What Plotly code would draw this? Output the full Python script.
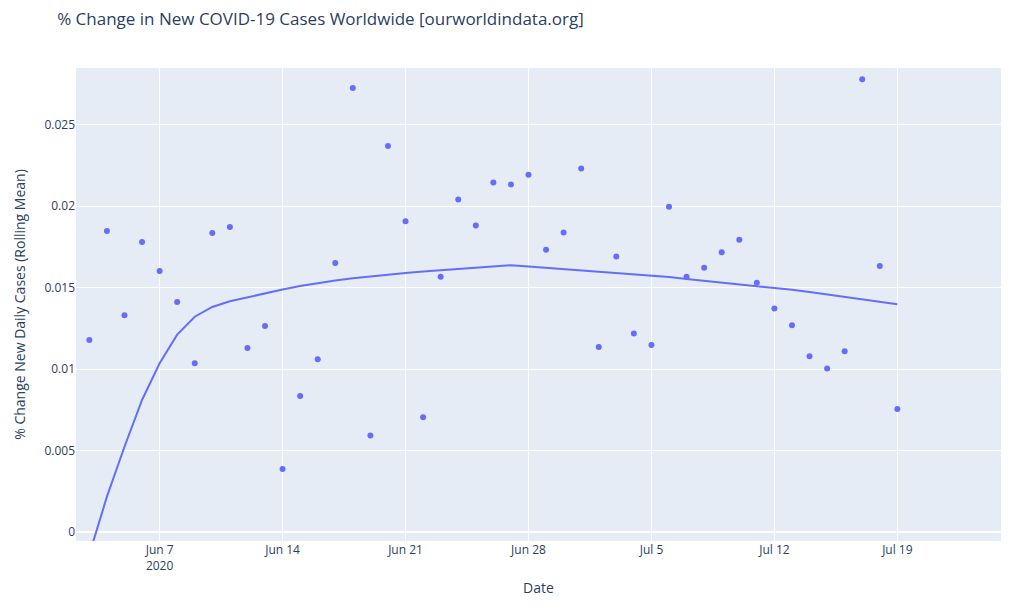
import pandas as pd
import plotly.graph_objects as go

dates = pd.date_range("2020-06-03", "2020-07-19", freq="D")

pct_change = [
    0.01178, 0.01847, 0.01330, 0.01779, 0.01601, 0.01411, 0.01035, 0.01834,
    0.01871, 0.01129, 0.01264, 0.00387, 0.00834, 0.01060, 0.01650, 0.02724,
    0.00592, 0.02368, 0.01906, 0.00705, 0.01566, 0.02040, 0.01881, 0.02145,
    0.02133, 0.02192, 0.01732, 0.01837, 0.02231, 0.01135, 0.01690, 0.01218,
    0.01147, 0.01996, 0.01566, 0.01622, 0.01716, 0.01794, 0.01530, 0.01372,
    0.01268, 0.01078, 0.01003, 0.01109, 0.02778, 0.01632, 0.00755,
]

trend = [
    -0.00136, 0.00217, 0.00523, 0.00810, 0.01035, 0.01211, 0.01321, 0.01381,
    0.01416, 0.01441, 0.01465, 0.01488, 0.01509, 0.01527, 0.01543, 0.01557,
    0.01569, 0.01580, 0.01589, 0.01598, 0.01606, 0.01614, 0.01621, 0.01629,
    0.01637, 0.01629, 0.01621, 0.01613, 0.01605, 0.01597, 0.01590, 0.01582,
    0.01574, 0.01564, 0.01553, 0.01542, 0.01531, 0.01520, 0.01510, 0.01499,
    0.01486, 0.01472, 0.01457, 0.01443, 0.01428, 0.01412, 0.01397,
]

color = "#636efa"

fig = go.Figure()
fig.add_trace(go.Scatter(x=dates, y=pct_change, mode="markers",
                         marker=dict(color=color, size=6), showlegend=False))
fig.add_trace(go.Scatter(x=dates, y=trend, mode="lines",
                         line=dict(color=color, width=2), showlegend=False))

fig.update_layout(
    template="plotly",
    width=1024, height=609,
    margin=dict(l=68, r=31, t=60, b=76),
    title=dict(text="% Change in New COVID-19 Cases Worldwide [ourworldindata.org]",
               x=0.048, xanchor="left", y=0.982, yanchor="middle"),
    xaxis=dict(title=dict(text="Date", standoff=10),
               range=["2020-06-02 05:45", "2020-07-24 21:36"]),
    yaxis=dict(title=dict(text="% Change New Daily Cases (Rolling Mean)"),
               range=[-0.00055, 0.02847]),
    showlegend=False,
)

fig.write_html("out.html")
